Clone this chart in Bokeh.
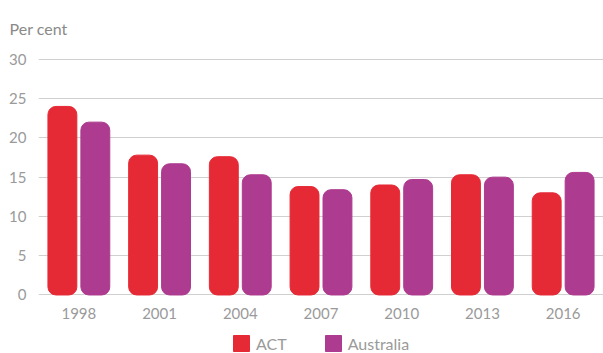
from bokeh.plotting import figure
from bokeh.models import ColumnDataSource, Legend, LegendItem, FactorRange
from bokeh.core.properties import value
from bokeh.transform import dodge
from bokeh.embed import file_html
from bokeh.resources import INLINE

years = ["1998", "2001", "2004", "2007", "2010", "2013", "2016"]
act = [24.0, 17.8, 17.6, 13.8, 14.0, 15.3, 13.0]
australia = [22.0, 16.7, 15.3, 13.4, 14.7, 15.0, 15.6]
series_names = ["ACT", "Australia"]
colors = ["#E52A36", "#AD3B8F"]
y_ticks = [0, 5, 10, 15, 20, 25, 30]

FONT = "Lato"
TXT = "#9a9a9a"

src = ColumnDataSource(dict(year=years, act=act, aus=australia,
                            lab_y=[-2.3] * len(years)))

p = figure(x_range=FactorRange(*years), y_range=(-7.45, 30.1), width=603, height=353,
           output_backend="svg", toolbar_location=None, x_axis_location=None,
           min_border_left=38, min_border_right=0, min_border_top=58, min_border_bottom=0)

r1 = p.vbar(x=dodge("year", -0.204, range=p.x_range), top="act", bottom=0, width=0.358,
            source=src, color=colors[0], border_radius=8)
r2 = p.vbar(x=dodge("year", 0.204, range=p.x_range), top="aus", bottom=0, width=0.358,
            source=src, color=colors[1], border_radius=8)

# category labels under the bars
p.text(x="year", y="lab_y", text="year", source=src, text_align="center",
       text_baseline="middle", text_font=value(FONT), text_font_size="15px",
       text_color=TXT)

p.title.text = "Per cent\n "
p.title.align = "left"
p.title.vertical_align = "top"
p.title.offset = -29
p.title.standoff = 0
p.title.text_font = FONT
p.title.text_font_size = "16px"
p.title.text_font_style = "normal"
p.title.text_color = "#8a8a8a"

p.outline_line_color = None
p.xgrid.grid_line_color = None
p.ygrid.grid_line_color = "#d0d0d0"
p.ygrid.grid_line_width = 1
p.ygrid.ticker = y_ticks
p.yaxis.ticker = y_ticks

ax = p.yaxis[0]
ax.axis_line_color = None
ax.major_tick_line_color = None
ax.minor_tick_line_color = None
ax.major_tick_out = 0
ax.major_tick_in = 0
ax.major_label_text_font = FONT
ax.major_label_text_font_size = "15px"
ax.major_label_text_color = TXT
ax.major_label_standoff = 12
p.x_range.range_padding = 0
p.x_range.group_padding = 0

legend = Legend(items=[LegendItem(label=series_names[0], renderers=[r1]),
                       LegendItem(label=series_names[1], renderers=[r2])],
                orientation="horizontal", location=(193, 0),
                glyph_width=20, glyph_height=20, label_height=20,
                label_text_font=FONT, label_text_font_size="16px", label_text_color=TXT,
                label_standoff=5, spacing=36, padding=0, margin=0,
                border_line_color=None, background_fill_alpha=0)
p.add_layout(legend, "center")

open("out.html", "w").write(file_html(p, INLINE))
